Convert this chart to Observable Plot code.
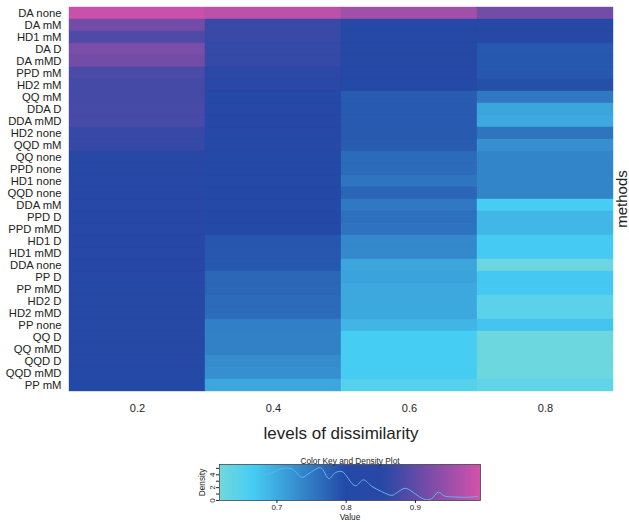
<!DOCTYPE html>
<html>
<head>
<meta charset="utf-8">
<script src="https://cdn.jsdelivr.net/npm/d3@7"></script>
<script src="https://cdn.jsdelivr.net/npm/@observablehq/plot@0.6"></script>
<style>
  body { margin: 0; background: #fff; font-family: "Liberation Sans", Arial, sans-serif; }
  #chart svg { display: block; }
</style>
</head>
<body>
<div id="chart"></div>
<script>
// Methods, top to bottom
const methods = [
  "DA none", "DA mM", "HD1 mM", "DA D", "DA mMD", "PPD mM", "HD2 mM", "QQ mM",
  "DDA D", "DDA mMD", "HD2 none", "QQD mM", "QQ none", "PPD none", "HD1 none", "QQD none",
  "DDA mM", "PPD D", "PPD mMD", "HD1 D", "HD1 mMD", "DDA none", "PP D", "PP mMD",
  "HD2 D", "HD2 mMD", "PP none", "QQ D", "QQ mMD", "QQD D", "QQD mMD", "PP mM"
];

// Levels of dissimilarity (columns)
const levels = ["0.2", "0.4", "0.6", "0.8"];

// Values per level, one entry per method (same order as `methods`)
const level02 = [
  0.985, 0.915, 0.886, 0.920, 0.915, 0.883, 0.878, 0.878,
  0.879, 0.879, 0.866, 0.864, 0.840, 0.838, 0.836, 0.835,
  0.834, 0.832, 0.832, 0.830, 0.830, 0.828, 0.828, 0.826,
  0.826, 0.825, 0.825, 0.824, 0.822, 0.820, 0.818, 0.800
];
const level04 = [
  0.974, 0.867, 0.867, 0.864, 0.864, 0.856, 0.856, 0.812,
  0.830, 0.830, 0.828, 0.826, 0.812, 0.810, 0.810, 0.808,
  0.806, 0.806, 0.804, 0.787, 0.786, 0.785, 0.770, 0.770,
  0.765, 0.765, 0.745, 0.744, 0.744, 0.730, 0.728, 0.705
];
const level06 = [
  0.953, 0.820, 0.820, 0.822, 0.822, 0.820, 0.818, 0.781,
  0.783, 0.783, 0.782, 0.781, 0.766, 0.766, 0.756, 0.771,
  0.751, 0.760, 0.757, 0.735, 0.735, 0.706, 0.708, 0.703,
  0.703, 0.703, 0.690, 0.665, 0.664, 0.665, 0.666, 0.648
];
const level08 = [
  0.915, 0.825, 0.825, 0.785, 0.785, 0.785, 0.793, 0.751,
  0.706, 0.703, 0.756, 0.727, 0.739, 0.739, 0.739, 0.739,
  0.664, 0.687, 0.687, 0.667, 0.667, 0.6245, 0.670, 0.670,
  0.6425, 0.6425, 0.674, 0.622, 0.622, 0.622, 0.622, 0.636
];

// Density curve of all values, drawn over the colour key
const densityValue = [
  0.681, 0.691, 0.707, 0.722, 0.736, 0.746, 0.763, 0.775, 0.784, 0.794,
  0.813, 0.825, 0.837, 0.851, 0.866, 0.873, 0.885, 0.895, 0.904, 0.914,
  0.923, 0.933, 0.942, 0.957, 0.976, 0.990
];
const densityHeight = [
  4.0, 4.2, 5.0, 4.9, 3.6, 4.2, 5.1, 3.4, 4.3, 4.5,
  2.3, 3.2, 2.2, 1.4, 0.8, 1.2, 1.9, 1.4, 0.7, 0.15,
  0.25, 1.3, 0.7, 0.55, 0.5, 0.65
];

const keyTicks = [0.7, 0.8, 0.9];
const densityTicks = [0, 1, 2, 3, 4, 5];
const densityLabels = [0, 2, 4];
const valueRange = [0.617, 0.994];
const densityRange = [0, 5.6];

const columns = [level02, level04, level06, level08];
const cells = levels.flatMap((level, j) =>
  methods.map((method, i) => ({level, method, value: columns[j][i]}))
);
const density = densityValue.map((v, i) => ({value: v, density: densityHeight[i]}));

// Shared colour ramp: teal -> cyan -> dark blue -> magenta
const colorOptions = {
  type: "linear",
  domain: [valueRange[0], 0.665, 0.80, 0.855, valueRange[1]],
  range: ["#72d8dc", "#46cdf4", "#2349a6", "#2a48a6", "#d452aa"],
  interpolate: "rgb"
};

const font = "'Liberation Sans', Arial, sans-serif";

const heat = Plot.plot({
  width: 629,
  height: 450,
  marginLeft: 68,
  marginRight: 16,
  marginTop: 3,
  marginBottom: 56,
  style: {fontFamily: font, background: "white", color: "#222"},
  x: {domain: levels, padding: 0},
  y: {domain: methods, padding: 0},
  color: colorOptions,
  marks: [
    Plot.cell(cells, {x: "level", y: "method", fill: "value", stroke: "value", strokeWidth: 0.4, inset: 0}),
    Plot.axisX({tickSize: 0, tickPadding: 10, fontSize: 11, label: null}),
    Plot.axisY({tickSize: 0, tickPadding: 7, fontSize: 11.3, label: null}),
    Plot.text(["levels of dissimilarity"], {text: d => d, frameAnchor: "bottom", dy: 44, fontSize: 17}),
    Plot.text(["methods"], {text: d => d, frameAnchor: "right", textAnchor: "middle", dx: 9, rotate: -90, fontSize: 15})
  ]
});

const key = Plot.plot({
  width: 629,
  height: 72,
  marginLeft: 219,
  marginRight: 149,
  marginTop: 14,
  marginBottom: 22,
  style: {fontFamily: font, background: "white", color: "#222"},
  x: {domain: valueRange},
  y: {domain: densityRange},
  color: colorOptions,
  marks: [
    Plot.raster({
      x1: valueRange[0], x2: valueRange[1], y1: densityRange[0], y2: densityRange[1],
      width: 380, height: 1, fill: (x) => x
    }),
    Plot.line(density, {x: "value", y: "density", stroke: "#62b4ec", strokeWidth: 1, curve: "catmull-rom"}),
    Plot.frame({stroke: "#333", strokeWidth: 0.7}),
    Plot.axisX({ticks: keyTicks, tickSize: 3, tickPadding: 1, fontSize: 8, label: null, tickFormat: d3.format(".1f")}),
    Plot.axisY({ticks: densityTicks, tickSize: 3, label: null, tickFormat: () => ""}),
    Plot.text(densityLabels, {y: d => d, text: d => String(d), frameAnchor: "left", textAnchor: "middle",
      dx: -7, rotate: -90, fontSize: 8}),
    Plot.text(["Color Key and Density Plot"], {text: d => d, frameAnchor: "top", textAnchor: "middle", dy: -6, fontSize: 8.3}),
    Plot.text(["Value"], {text: d => d, frameAnchor: "bottom", textAnchor: "middle", dy: 19.5, fontSize: 8.3}),
    Plot.text(["Density"], {text: d => d, frameAnchor: "left", textAnchor: "middle", dx: -17, rotate: -90, fontSize: 8.3})
  ]
});

const chart = document.getElementById("chart");
chart.append(heat, key);
</script>
</body>
</html>
